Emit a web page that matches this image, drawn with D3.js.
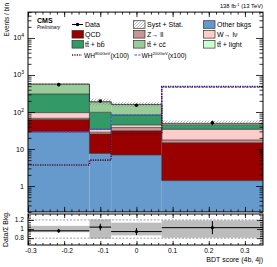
<!DOCTYPE html>
<html><head><meta charset="utf-8">
<script src="https://cdn.jsdelivr.net/npm/d3@7"></script>
<style>body{margin:0;background:#fff}svg{display:block;font-family:"Liberation Sans",Arial,sans-serif}</style>
</head><body><svg id="c" width="277" height="267"></svg>
<script>
// ---------- data ----------
const binEdges=[-0.3,-0.13,-0.07,0.07,0.35];
const otherBkgs=[29,7.6,6.9,1.4];
const qcd=[34,17.9,24.3,13.4];
const zll=[4.6,3,6.8,2.7];
const wlnu=[28.4,5.5,6.6,16.5];
const ttbb=[210,64,38.4,10];
const ttcc=[254,90,76,4];
const ttlight=[10,2,2,1.5];
const dataCounts=[548,198,152,51];
const relUnc=[0.07,0.21,0.14,0.19];
const whHeavy=[3.7,5.0,25.5,490];
const whLight=[29,34,83,470];
const xTickLabels=[-0.3,-0.2,-0.1,0,0.1,0.2,0.3];
const yTickLabels=[1,10,100,1000,10000];
const ratioTickLabels=[0.8,1,1.2];

// ---------- layout ----------
const svg=d3.select("#c");
const X0=28,X1=263,MT=12.1,MB=211.9,RT=214,RB=245;
const x=d3.scaleLinear().domain([-0.3,0.35]).range([X0,X1]);
const y=d3.scaleLog().domain([0.2,5e4]).range([MB,MT]).clamp(true);
const yr=d3.scaleLinear().domain([0.65,1.33]).range([RB,RT]);
const nb=binEdges.length-1;
const bins=d3.range(nb);

const defs=svg.append("defs");
const pat=defs.append("pattern").attr("id","hatch").attr("patternUnits","userSpaceOnUse")
  .attr("width",3).attr("height",3);
pat.append("path").attr("d","M-1,1 l2,-2 M0,3 l3,-3 M2,4 l2,-2").attr("stroke","#888").attr("stroke-width",0.6);
defs.append("clipPath").attr("id","mclip").append("rect").attr("x",X0).attr("y",MT).attr("width",X1-X0).attr("height",MB-MT);
defs.append("clipPath").attr("id","rclip").append("rect").attr("x",X0).attr("y",RT).attr("width",X1-X0).attr("height",RB-RT);

const comps=[
 {name:"Other bkgs",vals:otherBkgs,color:"#6699cc"},
 {name:"QCD",vals:qcd,color:"#990000"},
 {name:"Z→ll",vals:zll,color:"#c99494"},
 {name:"W→lν",vals:wlnu,color:"#ffcccc"},
 {name:"tt+bb",vals:ttbb,color:"#339966"},
 {name:"tt+cc",vals:ttcc,color:"#99cc99"},
 {name:"tt+light",vals:ttlight,color:"#ccffcc"}];

const gm=svg.append("g").attr("clip-path","url(#mclip)");
let cum=new Array(nb).fill(0);
const tops=[];
comps.forEach(c=>{
  const lo=cum.slice(); const hi=cum.map((v,i)=>v+c.vals[i]);
  gm.append("g").selectAll("rect").data(bins).join("rect")
    .attr("x",i=>x(binEdges[i])).attr("width",i=>x(binEdges[i+1])-x(binEdges[i]))
    .attr("y",i=>y(hi[i])).attr("height",i=>y(Math.max(lo[i],0.2))-y(hi[i]))
    .attr("fill",c.color);
  tops.push(hi); cum=hi;
});
const total=cum;
function stepPts(vals){const p=[];vals.forEach((v,i)=>{p.push([x(binEdges[i]),y(v)]);p.push([x(binEdges[i+1]),y(v)]);});return p;}
const line=d3.line();
tops.forEach(t=>gm.append("path").attr("d",line(stepPts(t))).attr("fill","none").attr("stroke","#333").attr("stroke-width",0.8).attr("stroke-opacity",0.85));
// uncertainty hatch
gm.append("g").selectAll("rect").data(bins).join("rect")
  .attr("x",i=>x(binEdges[i])).attr("width",i=>x(binEdges[i+1])-x(binEdges[i]))
  .attr("y",i=>y(total[i]*(1+relUnc[i]))).attr("height",i=>y(total[i]*(1-relUnc[i]))-y(total[i]*(1+relUnc[i])))
  .attr("fill","url(#hatch)");
// signals
gm.append("path").attr("d",line(stepPts(whLight))).attr("fill","none").attr("stroke","#4a4ad8").attr("stroke-width",1.2).attr("stroke-dasharray","2.5,1.2");
gm.append("path").attr("d",line(stepPts(whHeavy))).attr("fill","none").attr("stroke","#4d1030").attr("stroke-width",1.6).attr("stroke-dasharray","1.2,1.2");
// data
const gd=svg.append("g");
bins.forEach(i=>{
  const cx=x((binEdges[i]+binEdges[i+1])/2), n=dataCounts[i], e=Math.sqrt(n);
  gd.append("line").attr("x1",cx).attr("x2",cx).attr("y1",y(n+e)).attr("y2",y(n-e)).attr("stroke","#000").attr("stroke-width",1);
  gd.append("circle").attr("cx",cx).attr("cy",y(n)).attr("r",1.8).attr("fill","#000");
});

// ---------- ratio ----------
const gr=svg.append("g").attr("clip-path","url(#rclip)");
gr.selectAll("rect.unc").data(bins).join("rect").attr("class","unc")
  .attr("x",i=>x(binEdges[i])).attr("width",i=>x(binEdges[i+1])-x(binEdges[i]))
  .attr("y",i=>yr(1+relUnc[i])).attr("height",i=>yr(1-relUnc[i])-yr(1+relUnc[i]))
  .attr("fill","#bdbdbd");
[0.8,1.2].forEach(v=>gr.append("line").attr("x1",X0).attr("x2",X1).attr("y1",yr(v)).attr("y2",yr(v))
  .attr("stroke","#777").attr("stroke-width",0.7).attr("stroke-dasharray","2,1.5"));
bins.forEach(i=>{
  const r=dataCounts[i]/total[i], e=Math.sqrt(dataCounts[i])/total[i];
  const cx=x((binEdges[i]+binEdges[i+1])/2);
  gr.append("line").attr("x1",x(binEdges[i])).attr("x2",x(binEdges[i+1])).attr("y1",yr(r)).attr("y2",yr(r)).attr("stroke","#000").attr("stroke-width",1);
  gr.append("line").attr("x1",cx).attr("x2",cx).attr("y1",yr(r+e)).attr("y2",yr(r-e)).attr("stroke","#000").attr("stroke-width",1);
  gr.append("circle").attr("cx",cx).attr("cy",yr(r)).attr("r",1.6).attr("fill","#000");
});

// ---------- axes / ticks ----------
function clean(g){g.select(".domain").remove();g.selectAll("text").remove();g.selectAll("line").attr("stroke","#000").attr("stroke-width",0.8);}
const yMinor=[];for(let d=0.1;d<=1e4;d*=10){for(let k=2;k<=9;k++){const v=Math.round(d*k*1000)/1000;if(v>=0.2&&v<=5e4)yMinor.push(v);}}
svg.append("g").attr("transform",`translate(${X0},0)`).call(d3.axisLeft(y).tickValues(yTickLabels).tickSize(-7)).call(clean);
svg.append("g").attr("transform",`translate(${X0},0)`).call(d3.axisLeft(y).tickValues(yMinor).tickSize(-3.5)).call(clean);
svg.append("g").attr("transform",`translate(${X1},0)`).call(d3.axisRight(y).tickValues(yTickLabels).tickSize(-7)).call(clean);
svg.append("g").attr("transform",`translate(${X1},0)`).call(d3.axisRight(y).tickValues(yMinor).tickSize(-3.5)).call(clean);
const xMinor=d3.range(-0.3,0.3501,0.02);
const xMajor=d3.range(-0.3,0.3501,0.1);
[[MB,"b",5,2.5],[MT,"t",5,2.5],[RB,"b",4,2],[RT,"t",4,2]].forEach(([yy,side,L,S])=>{
  const ax=side==="b"?d3.axisBottom:d3.axisTop;
  svg.append("g").attr("transform",`translate(0,${yy})`).call(ax(x).tickValues(xMajor).tickSize(-L)).call(clean);
  svg.append("g").attr("transform",`translate(0,${yy})`).call(ax(x).tickValues(xMinor).tickSize(-S)).call(clean);
});
const rMinor=d3.range(0.7,1.301,0.05);
svg.append("g").attr("transform",`translate(${X0},0)`).call(d3.axisLeft(yr).tickValues(ratioTickLabels).tickSize(-6)).call(clean);
svg.append("g").attr("transform",`translate(${X0},0)`).call(d3.axisLeft(yr).tickValues(rMinor).tickSize(-3)).call(clean);
svg.append("g").attr("transform",`translate(${X1},0)`).call(d3.axisRight(yr).tickValues(ratioTickLabels).tickSize(-6)).call(clean);
svg.append("g").attr("transform",`translate(${X1},0)`).call(d3.axisRight(yr).tickValues(rMinor).tickSize(-3)).call(clean);

// frames
svg.append("rect").attr("x",X0).attr("y",MT).attr("width",X1-X0).attr("height",MB-MT).attr("fill","none").attr("stroke","#000").attr("stroke-width",1);
svg.append("rect").attr("x",X0).attr("y",RT).attr("width",X1-X0).attr("height",RB-RT).attr("fill","none").attr("stroke","#000").attr("stroke-width",1);

// tick labels
const fs=7.2;
yTickLabels.forEach(v=>{
  const e=Math.round(Math.log10(v));
  const t=svg.append("text").attr("x",24).attr("y",y(v)+2.5).attr("text-anchor","end").attr("font-size",fs);
  if(e===0)t.text("1"); else if(e===1)t.text("10");
  else{t.append("tspan").text("10");t.append("tspan").attr("font-size",5).attr("dy",-3).text(e);}
});
ratioTickLabels.forEach(v=>svg.append("text").attr("x",24).attr("y",yr(v)+2.3).attr("text-anchor","end").attr("font-size",6.6).text(v===1?"1":String(v)));
xTickLabels.forEach(v=>svg.append("text").attr("x",x(v)+(v<0?3:0)).attr("y",253).attr("text-anchor","middle").attr("font-size",6.6)
  .text(v===0?"0":String(v)));

// titles
svg.append("text").attr("transform","translate(8.5,3) rotate(-90)").attr("text-anchor","end").attr("font-size",6.4).text("Events / bin");
svg.append("text").attr("transform","translate(7.5,229) rotate(-90)").attr("text-anchor","middle").attr("font-size",6.8).text("Data/Σ Bkg.");
svg.append("text").attr("x",X1).attr("y",262).attr("text-anchor","end").attr("font-size",7).text("BDT score (4b, 4j)");
const lumi=svg.append("text").attr("x",X1).attr("y",8).attr("text-anchor","end").attr("font-size",5.8);
lumi.append("tspan").text("138 fb");lumi.append("tspan").attr("font-size",4).attr("dy",-2.2).text("-1");lumi.append("tspan").attr("dy",2.2).text(" (13 TeV)");
svg.append("text").attr("x",37).attr("y",23).attr("font-size",7).attr("font-weight","bold").text("CMS");
svg.append("text").attr("x",37).attr("y",28.5).attr("font-size",4.6).attr("font-style","italic").text("Preliminary");

// legend
const lf=7;
const lg=svg.append("g").attr("font-size",lf);
function box(xx,yy,fill){lg.append("rect").attr("x",xx).attr("y",yy-3.8).attr("width",11.5).attr("height",7.6).attr("fill",fill).attr("stroke","#333").attr("stroke-width",0.7);}
function label(xx,yy,txt){return lg.append("text").attr("x",xx).attr("y",yy+2.5).text(txt);}
const rows=[24.5,34.3,44.3,55];
// col1
lg.append("line").attr("x1",72).attr("x2",83).attr("y1",rows[0]).attr("y2",rows[0]).attr("stroke","#000").attr("stroke-width",1);
lg.append("circle").attr("cx",77.5).attr("cy",rows[0]).attr("r",1.8).attr("fill","#000");
label(85,rows[0],"Data");
box(72,rows[1],comps[1].color);label(85,rows[1],"QCD");
box(72,rows[2],comps[4].color);label(85,rows[2],"tt̄ + bb̄");
// col2
box(133.5,rows[0],"url(#hatch)");label(147,rows[0],"Syst + Stat.");
box(133.5,rows[1],comps[2].color);label(147,rows[1],"Z→ ll");
box(133.5,rows[2],comps[5].color);label(147,rows[2],"tt̄ + cc̄");
// col3
box(203.5,rows[0],comps[0].color);label(217,rows[0],"Other bkgs");
box(203.5,rows[1],comps[3].color);label(217,rows[1],"W→ lν");
box(203.5,rows[2],comps[6].color);label(217,rows[2],"tt̄ + light");
// row4 signals
lg.append("line").attr("x1",72).attr("x2",82).attr("y1",rows[3]).attr("y2",rows[3]).attr("stroke","#4d1030").attr("stroke-width",1.6).attr("stroke-dasharray","1.2,1.2");
let t4=lg.append("text").attr("x",84).attr("y",rows[3]+2.5).attr("font-size",6.6).text("WH");
t4.append("tspan").attr("font-size",4.2).attr("dy",-3).text("800GeV");t4.append("tspan").attr("dy",3).text("(x100)");
lg.append("line").attr("x1",134.5).attr("x2",140.5).attr("y1",rows[3]).attr("y2",rows[3]).attr("stroke","#4a4ad8").attr("stroke-width",1.2).attr("stroke-dasharray","2.5,1.2");
let t5=lg.append("text").attr("x",141.5).attr("y",rows[3]+2.5).attr("font-size",6.6).text("WH");
t5.append("tspan").attr("font-size",4.2).attr("dy",-3).text("200GeV");t5.append("tspan").attr("dy",3).text("(x100)");
</script></body></html>
